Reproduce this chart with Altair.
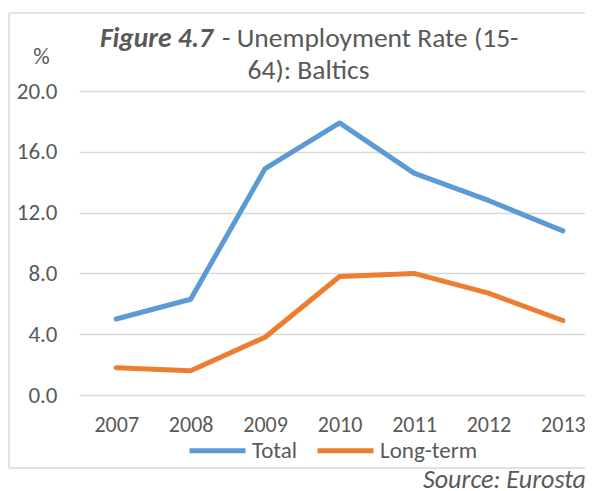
import altair as alt
import pandas as pd

years = [2007, 2008, 2009, 2010, 2011, 2012, 2013]
total = [5.0, 6.3, 14.9, 17.9, 14.6, 12.8, 10.8]
long_term = [1.8, 1.6, 3.8, 7.8, 8.0, 6.7, 4.9]
series_names = ["Total", "Long-term"]
series_colors = ["#5B9BD5", "#ED7D31"]
y_ticks = [0, 4, 8, 12, 16, 20]

title_bold = "Figure 4.7"
title_rest = "- Unemployment Rate (15-"
title_line2 = "64): Baltics"
unit_label = "%"
source_text = "Source: Eurostat"

FONT = "Carlito, Calibri, Lato, sans-serif"
GRAY = "#595959"
GRID = "#D9D9D9"

W, H = 506, 304

rows = []
for name, vals in zip(series_names, [total, long_term]):
    for yr, v in zip(years, vals):
        rows.append({"year": yr, "value": v, "series": name})
df = pd.DataFrame(rows)

lines = alt.Chart(df).mark_line(strokeWidth=5, strokeCap="round", strokeJoin="round").encode(
    x=alt.X("year:Q",
            scale=alt.Scale(domain=[2006.5, 2013.297], nice=False, zero=False),
            axis=alt.Axis(values=years, format="d", title=None, grid=False, domain=False,
                          ticks=False, labelFontSize=22, labelColor=GRAY, labelFont=FONT,
                          labelPadding=19, labelOverlap=False, labelFlush=False, labelBound=False)),
    y=alt.Y("value:Q",
            scale=alt.Scale(domain=[0, 20], nice=False),
            axis=alt.Axis(values=y_ticks, format=".1f", title=None, grid=True, gridColor=GRID,
                          gridWidth=1.5, domain=False, ticks=False, labelFontSize=23,
                          labelColor=GRAY, labelFont=FONT, labelPadding=22)),
    color=alt.Color("series:N",
                    scale=alt.Scale(domain=series_names, range=series_colors),
                    legend=alt.Legend(orient="none", legendX=108, legendY=329, direction="horizontal",
                                      title=None, symbolType="stroke", symbolSize=3136,
                                      symbolStrokeWidth=5, labelFontSize=23, labelColor=GRAY,
                                      labelFont=FONT, labelOffset=4, columnPadding=9, padding=0)),
    order="year:Q",
)

def txt(text, x, y, size, align="left", weight="normal", style="normal"):
    return alt.Chart(pd.DataFrame({"t": [text]})).mark_text(
        align=align, baseline="alphabetic", fontSize=size, font=FONT, color=GRAY,
        fontWeight=weight, fontStyle=style,
    ).encode(text="t:N", x=alt.value(x), y=alt.value(y))

t1 = txt(title_bold, 134, -44, 27.5, align="right", weight="bold", style="italic")
t2 = txt(title_rest, 143, -44, 27.5, align="left")
t3 = txt(title_line2, 229.5, -12, 27.5, align="center")
t4 = txt(unit_label, -37.5, -27, 23, align="center")
t5 = txt(source_text, 344, 397, 26, align="left", style="italic")

frame_df = pd.DataFrame({"k": [0]})
frame_left = alt.Chart(frame_df).mark_rule(color=GRID, strokeWidth=1.5).encode(
    x=alt.value(-70), y=alt.value(-78), y2=alt.value(377))
frame_top = alt.Chart(frame_df).mark_rule(color=GRID, strokeWidth=1.5).encode(
    x=alt.value(-70), x2=alt.value(W), y=alt.value(-78))
frame_bottom = alt.Chart(frame_df).mark_rule(color=GRID, strokeWidth=1.5).encode(
    x=alt.value(-70), x2=alt.value(W), y=alt.value(377))

chart = alt.layer(frame_left, frame_top, frame_bottom, lines, t1, t2, t3, t4, t5).properties(
    width=W, height=H,
    autosize=alt.AutoSizeParams(type="none"),
    padding={"left": 71, "top": 83, "right": 0, "bottom": 96},
).configure_view(strokeWidth=0)

chart.save("out.html", embed_options={"renderer": "svg", "actions": False})
